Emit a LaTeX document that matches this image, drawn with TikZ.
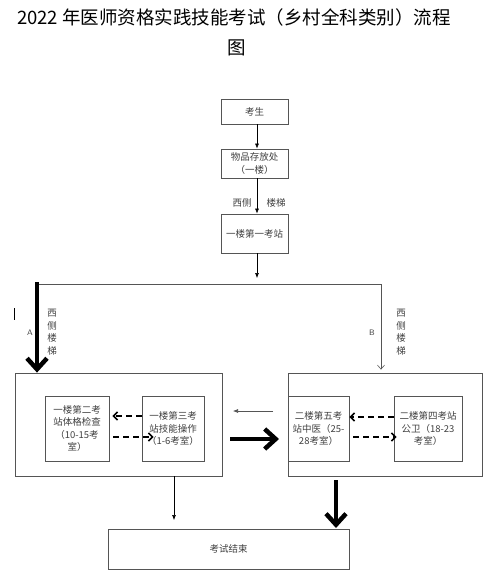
\documentclass[tikz,border=0pt]{standalone}
\usepackage{fontspec}
\newfontfamily\cjk{Noto Sans CJK SC}
\usetikzlibrary{arrows.meta,calc}
\definecolor{boxline}{HTML}{555555}
\definecolor{txt}{HTML}{404040}
\tikzset{
  box/.style={draw=boxline, line width=0.8pt, minimum width=#1, inner sep=0pt, align=center, text=txt, font=\cjk\fontsize{9.5}{12.5}\selectfont},
  thinarr/.style={draw=black, line width=0.6pt, -{Latex[length=5pt,width=4pt]}},
  openarr/.style={draw=boxline, line width=0.6pt, -{Straight Barb[length=4pt,width=7pt]}},
  thickarr/.style={draw=black, line width=4.5pt, -{Straight Barb[length=11pt,width=20pt,line width=4.5pt]}},
  dasharr/.style={draw=black, line width=1.6pt, dash pattern=on 6pt off 4pt, -{Straight Barb[length=4pt,width=8pt,line width=1.6pt]}},
  lbl/.style={text=txt, font=\cjk\fontsize{9.5}{12.5}\selectfont, inner sep=0pt, align=center},
}
\begin{document}
\begin{tikzpicture}[x=1pt,y=-1pt]
\fill[white] (0,0) rectangle (495,574);
\useasboundingbox (0,0) rectangle (495,574);

\node[font=\cjk\fontsize{18.5}{22}\selectfont, inner sep=0pt] (t1) at (234,17) {2022 年医师资格实践技能考试（乡村全科类别）流程};
\node[font=\cjk\fontsize{18.5}{22}\selectfont, inner sep=0pt] (t2) at (237,48) {图};

\node[box=67pt, minimum height=25pt] (ks) at (254.5,111.5) {考生};
\node[box=67pt, minimum height=29pt] (wp) at (254.5,163.5) {物品存放处\\（一楼）};
\node[box=67pt, minimum height=39pt] (z1) at (254.5,233.5) {一楼第一考站};

\node[box=207pt, minimum height=103pt] (bl) at (118.5,424.5) {};
\node[box=64pt, minimum height=65pt] (z2) at (77,428.5) {一楼第二考\\站体格检查\\（10-15考\\室）};
\node[box=62pt, minimum height=65pt] (z3) at (173,428.5) {一楼第三考\\站技能操作\\（1-6考室）};

\node[box=194pt, minimum height=103pt] (br) at (385,424.5) {};
\node[box=61pt, minimum height=65pt] (z5) at (318.5,428.5) {二楼第五考\\站中医（25-\\28考室）};
\node[box=68pt, minimum height=65pt] (z4) at (428,428.5) {二楼第四考站\\公卫（18-23\\考室）};

\node[box=241pt, minimum height=40pt] (end) at (228.5,549) {考试结束};

% labels
\node[lbl] (xc) at (242,203) {西侧};
\node[lbl] (lt) at (276,203) {楼梯};
\node[lbl, font=\sffamily\fontsize{8}{10}\selectfont] (la) at (30,333) {A};
\node[lbl, font=\sffamily\fontsize{8}{10}\selectfont] (lb) at (372,333) {B};
\node[lbl] (va) at (52,332) {西\\侧\\楼\\梯};
\node[lbl] (vb) at (401,332) {西\\侧\\楼\\梯};

% connectors top
\draw[thinarr] (ks.south -| 257,0) -- (wp.north -| 257,0);
\draw[thinarr] (wp.south -| 257,0) -- (z1.north -| 257,0);
\coordinate (jm) at (257,278);
\draw[thinarr] (z1.south -| 257,0) -- (jm);
\coordinate (jl) at (37,284);
\coordinate (jr) at (381,284);
\draw[boxline, line width=0.8pt] (jl) -- (jr);
\draw[thickarr] ([yshift=2pt]jl) -- (jl |- bl.north);
\draw[openarr] (jr) -- ([yshift=3pt]jr |- br.north);
\coordinate (m1) at (14,308);
\coordinate (m2) at (14,320);
\draw[black, line width=0.6pt] (m1) -- (m2);

% dashed
\draw[dasharr] ($(z3.west)+(0,-12.5)$) -- ($(z2.east)+(3,-12.5)$);
\draw[dasharr] ($(z2.east)+(4,8.5)$) -- ($(z3.west)+(12,8.5)$);
\draw[dasharr] ($(z4.west)+(0,-11.5)$) -- ($(z5.east)+(0,-11.5)$);
\draw[dasharr] ($(z5.east)+(4,8.5)$) -- ($(z4.west)+(3,8.5)$);

% between big boxes
\coordinate (ta) at (273,411);
\coordinate (tb) at (233,411);
\draw[thinarr, draw=boxline] (ta) -- (tb);
\coordinate (tc) at (230,439);
\coordinate (td) at (279,439);
\draw[thickarr] (tc) -- (td);

% bottom
\draw[thinarr] (bl.south -| 174,0) -- (174,520);
\coordinate (be) at (336,528);
\draw[thickarr] ([yshift=-4pt]br.south -| 336,0) -- (be);
\end{tikzpicture}
\end{document}
